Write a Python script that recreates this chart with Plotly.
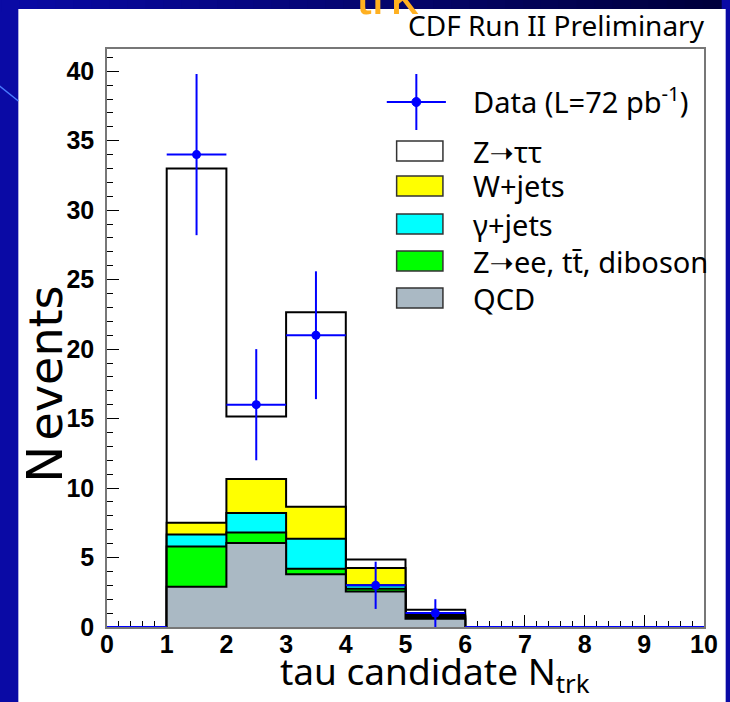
import plotly.graph_objects as go

# ---- histogram contents (bins of tau candidate track multiplicity) ----
bin_edges = [1, 2, 3, 4, 5, 6]
qcd = [2.9, 6.05, 3.8, 2.55, 0.6]
z_ee_tt_diboson = [2.9, 0.75, 0.4, 0.2, 0.1]
gamma_jets = [0.85, 1.4, 2.15, 0.25, 0.1]
w_jets = [0.85, 2.45, 2.3, 1.25, 0.1]
z_tautau = [25.5, 4.5, 14.0, 0.6, 0.35]

data_x = [1.5, 2.5, 3.5, 4.5, 5.5]
data_y = [34, 16, 21, 3, 1]
data_err = [5.8, 4.0, 4.6, 1.7, 1.0]
empty_x = [0.5, 6.5, 7.5, 8.5, 9.5]
empty_y = [0, 0, 0, 0, 0]

x_ticks = [0, 1, 2, 3, 4, 5, 6, 7, 8, 9, 10]
y_ticks = [0, 5, 10, 15, 20, 25, 30, 35, 40]

# plot-area geometry in page pixels (730 x 702 page)
L, R, T, B = 107, 713, 49, 627
W, H = 730, 702


def px(x):
    return (x - L) / (R - L)


def py(y):
    return (B - y) / (B - T)


TEXT_FONT = "Noto Sans"
ARROW = "<span style=\"font-family:'DejaVu Sans'\">➝</span>"

layers = [
    ("QCD", qcd, "#aab9c4"),
    ("Z→ee, tt̄, diboson", z_ee_tt_diboson, "#00ff00"),
    ("γ+jets", gamma_jets, "#00ffff"),
    ("W+jets", w_jets, "#ffff00"),
    ("Z→ττ", z_tautau, "#ffffff"),
]

# cumulative stack tops
cum = []
running = [0.0] * len(qcd)
for name, vals, col in layers:
    running = [a + b for a, b in zip(running, vals)]
    cum.append((name, list(running), col))

fig = go.Figure()

# draw from the top of the stack downwards so lower layers cover upper ones
for name, tops, col in reversed(cum):
    xs = [bin_edges[0]] + bin_edges + [bin_edges[-1]]
    ys = [0] + tops + [tops[-1], 0]
    fig.add_trace(go.Scatter(
        x=xs, y=ys, mode="lines", line=dict(shape="hv", color="black", width=2),
        fill="toself", fillcolor=col, name=name, showlegend=False, hoverinfo="skip",
    ))

# empty data bins: flat line at zero
fig.add_trace(go.Scatter(
    x=empty_x, y=empty_y, mode="markers", marker=dict(size=0.1, color="blue"),
    error_x=dict(type="constant", value=0.5, color="blue", thickness=2, width=0),
    showlegend=False, cliponaxis=False, hoverinfo="skip",
))

# observed data
fig.add_trace(go.Scatter(
    x=data_x, y=data_y, mode="markers", marker=dict(size=9, color="blue"),
    error_x=dict(type="constant", value=0.5, color="blue", thickness=2, width=0),
    error_y=dict(type="data", array=data_err, color="blue", thickness=2, width=0),
    showlegend=False, cliponaxis=False, name="Data",
))

shapes = []
annotations = []

# slide background: white sheet over the blue slide
n_strip = 40
for i in range(n_strip):
    f = i / (n_strip - 1)
    r = int(10 * (1 - f))
    g = int(10 * (1 - f))
    b = int(165 * (1 - f) + 60 * f)
    shapes.append(dict(type="rect", xref="paper", yref="paper", layer="below",
                       x0=px(W * i / n_strip), x1=px(W * (i + 1) / n_strip + 1),
                       y0=py(-5), y1=py(12), line=dict(width=0),
                       fillcolor=f"rgb({r},{g},{b})"))
shapes.append(dict(type="rect", xref="paper", yref="paper", layer="below",
                   x0=px(17), x1=px(W + 5), y0=py(W + 20), y1=py(9),
                   line=dict(width=0), fillcolor="white"))
shapes.append(dict(type="line", xref="paper", yref="paper", layer="below",
                   x0=px(-2), y0=py(86), x1=px(17), y1=py(101),
                   line=dict(color="#4a7cff", width=1.5)))

# legend
leg_box_x0, leg_box_x1 = 401, 448
leg_text_x = 479
leg_size = 29
leg_rows = [
    ("Z" + ARROW + "ττ", "#ffffff", 151),
    ("W+jets", "#ffff00", 186),
    ("γ+jets", "#00ffff", 224),
    ("Z" + ARROW + "ee, tt̄, diboson", "#00ff00", 261),
    ("QCD", "#aab9c4", 298),
]
for label, col, yc in leg_rows:
    shapes.append(dict(type="rect", xref="paper", yref="paper",
                       x0=px(leg_box_x0), x1=px(leg_box_x1),
                       y0=py(yc - 10), y1=py(yc + 10),
                       line=dict(color="#333333", width=1.5), fillcolor=col))
    annotations.append(dict(xref="paper", yref="paper", x=px(leg_text_x - 3), y=py(yc),
                            xanchor="left", yanchor="middle", showarrow=False,
                            text=label, font=dict(family=TEXT_FONT, size=leg_size, color="black")))
# data legend entry: cross with dot
shapes.append(dict(type="line", xref="paper", yref="paper",
                   x0=px(391), x1=px(451), y0=py(102), y1=py(102),
                   line=dict(color="blue", width=2)))
shapes.append(dict(type="line", xref="paper", yref="paper",
                   x0=px(421), x1=px(421), y0=py(74), y1=py(130),
                   line=dict(color="blue", width=2)))
shapes.append(dict(type="circle", xref="paper", yref="paper",
                   x0=px(416.5), x1=px(425.5), y0=py(97.5), y1=py(106.5),
                   line=dict(color="blue", width=1), fillcolor="blue"))
annotations.append(dict(xref="paper", yref="paper", x=px(leg_text_x - 3), y=py(100),
                        xanchor="left", yanchor="middle", showarrow=False,
                        text="Data (L=72 pb<sup>-1</sup>)",
                        font=dict(family=TEXT_FONT, size=leg_size, color="black")))

# header text
annotations.append(dict(xref="paper", yref="paper", x=px(716), y=py(25),
                        xanchor="right", yanchor="middle", showarrow=False,
                        text="CDF Run II Preliminary",
                        font=dict(family=TEXT_FONT, size=28, color="black")))
# fragment of the slide title peeking above the sheet
annotations.append(dict(xref="paper", yref="paper", x=px(392), y=py(28),
                        xanchor="center", yanchor="bottom", showarrow=False,
                        text="trk", font=dict(family="Liberation Sans", size=56,
                                              color="#ffb020")))

# axis titles
annotations.append(dict(xref="paper", yref="paper", x=px(440), y=py(673),
                        xanchor="center", yanchor="middle", showarrow=False,
                        text="tau candidate N<sub>trk</sub>",
                        font=dict(family=TEXT_FONT, size=37, color="black")))
annotations.append(dict(xref="paper", yref="paper", x=px(44), y=py(464),
                        xanchor="center", yanchor="middle", showarrow=False,
                        textangle=-90, text="N",
                        font=dict(family="DejaVu Sans", size=50, color="black")))
annotations.append(dict(xref="paper", yref="paper", x=px(45), y=py(442),
                        xanchor="center", yanchor="bottom", showarrow=False,
                        textangle=-90, text="events",
                        font=dict(family="DejaVu Sans", size=46, color="black")))

fig.update_layout(
    width=W, height=H,
    margin=dict(l=L, r=W - R, t=T, b=H - B, pad=0),
    paper_bgcolor="#0a0aa5", plot_bgcolor="rgba(0,0,0,0)",
    shapes=shapes, annotations=annotations, showlegend=False,
)
fig.update_xaxes(
    range=[0, 10], tickvals=x_ticks, ticktext=[str(v) for v in x_ticks],
    ticks="inside", ticklen=12, tickwidth=1, tickcolor="black",
    minor=dict(dtick=0.2, ticks="inside", ticklen=6, tickcolor="black", tickwidth=1),
    showgrid=False, zeroline=False, showline=True, linecolor="#777777", linewidth=1.5,
    mirror=True, layer="below traces",
    tickfont=dict(family="Liberation Sans", size=25, color="black", weight="bold"),
    ticklabelstandoff=-6,
)
fig.update_yaxes(
    range=[0, 41.6], tickvals=y_ticks, ticktext=[str(v) for v in y_ticks],
    ticks="inside", ticklen=12, tickwidth=1, tickcolor="black",
    minor=dict(dtick=1, ticks="inside", ticklen=6, tickcolor="black", tickwidth=1),
    showgrid=False, zeroline=False, showline=True, linecolor="#777777", linewidth=1.5,
    mirror=True, layer="below traces",
    tickfont=dict(family="Liberation Sans", size=25, color="black", weight="bold"),
    ticklabelstandoff=6,
)

fig.write_html("out.html")
